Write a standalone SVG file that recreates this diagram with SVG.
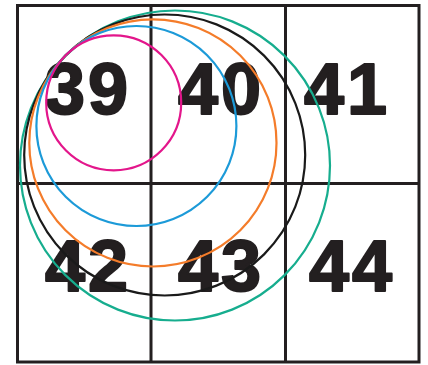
<svg xmlns="http://www.w3.org/2000/svg" width="428" height="365" viewBox="0 0 428 365">
<style>
.grid{fill:none;stroke:#231f20;stroke-width:3}
.num{font-family:"Liberation Sans",Arial,sans-serif;font-weight:bold;font-size:72px;fill:#231f20;stroke:#231f20;stroke-width:2;stroke-linejoin:round;text-anchor:middle;letter-spacing:3px}
.c{fill:none;stroke-width:2.2}
</style>
<rect width="428" height="365" fill="#fff"/>
<g id="cells">
<g id="n39"><text class="num" x="88" y="114">39</text></g>
<g id="n40"><text class="num" x="221" y="114">40</text></g>
<g id="n41"><text class="num" x="347" y="114">41</text></g>
<g id="n42"><text class="num" x="88" y="291">42</text></g>
<g id="n43"><text class="num" x="221" y="291">43</text></g>
<g id="n44"><text class="num" x="352" y="291">44</text></g>
</g>
<g id="grid" class="grid">
<rect x="17.5" y="5.5" width="401.5" height="356.5"/>
<line x1="151" y1="5.5" x2="151" y2="362"/>
<line x1="285.5" y1="5.5" x2="285.5" y2="362"/>
<line x1="17.5" y1="183.5" x2="419" y2="183.5"/>
</g>
<g id="circles">
<circle class="c" cx="175" cy="165.5" r="155" stroke="#16ad8e"/>
<circle class="c" cx="164.7" cy="155" r="140.5" stroke="#1a1a1a"/>
<circle class="c" cx="152.9" cy="142.9" r="123.6" stroke="#f47c2a"/>
<circle class="c" cx="136.4" cy="126" r="100" stroke="#1c9ad8"/>
<circle class="c" cx="113.7" cy="102.8" r="67.5" stroke="#e3168b"/>
</g>
</svg>
